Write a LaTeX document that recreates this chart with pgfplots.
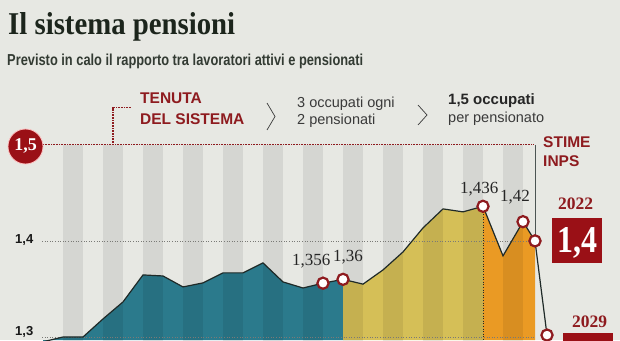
\documentclass[border=0pt]{standalone}
\usepackage{pgfplots}
\pgfplotsset{compat=1.18}
\usepackage{fontspec}
\setmainfont{Liberation Sans}
\newfontfamily\serif{Liberation Serif}
\definecolor{bg}{HTML}{E7E8E3}
\definecolor{tealc}{HTML}{2B7A8C}
\definecolor{yelc}{HTML}{D5BF57}
\definecolor{orac}{HTML}{EA9A24}
\definecolor{dred}{HTML}{8E1B1F}
\definecolor{boxred}{HTML}{9A1016}
\definecolor{linec}{HTML}{1F2A28}
\definecolor{titlec}{HTML}{1C251C}
\definecolor{gridc}{HTML}{7A7A76}
\definecolor{txtc}{HTML}{3A3A3A}
\begin{document}
\begin{tikzpicture}[x=1pt,y=1pt]
\useasboundingbox (0,0) rectangle (620,340);
\fill[bg] (0,0) rectangle (620,340);
\begin{axis}[at={(0pt,0pt)}, anchor=south west, width=620pt, height=340pt,
  scale only axis, xmin=-3.15, xmax=27.85, ymin=1.296875, ymax=1.6510417,
  axis lines=none, ticks=none, clip=true]
% areas
\addplot[fill=tealc, draw=none] coordinates {(-1,1.295) (0,1.300) (1,1.300) (2,1.3188) (3,1.3365) (4,1.3646) (5,1.3635) (6,1.3521) (7,1.3563) (8,1.3667) (9,1.3667) (10,1.3771) (11,1.3573) (12,1.3510) (13,1.356) (14,1.360)} \closedcycle;
\addplot[fill=yelc, draw=none] coordinates {(14,1.360) (15,1.355) (16,1.3698) (17,1.3885) (18,1.4135) (19,1.4333) (20,1.4302) (21,1.436)} \closedcycle;
\addplot[fill=orac, draw=none] coordinates {(21,1.436) (22,1.3844) (23,1.420) (23.6,1.400)} \closedcycle;
% bands
\pgfplotsinvokeforeach{0,2,...,22}{
  \fill[black, fill opacity=0.075] (axis cs:#1,1.5) rectangle ([xshift=20pt]axis cs:#1,1.29);
}
% grid lines
\draw[gridc, line width=0.6pt, dotted] (axis cs:-1.05,1.4) -- (axis cs:23.6,1.4);
\draw[gridc, line width=0.6pt, dotted] (axis cs:-1.05,1.3) -- (axis cs:23.6,1.3);
\draw[dred, line width=1.1pt, dash pattern=on 0.8pt off 0.8pt] (axis cs:-1.0,1.5) -- (axis cs:23.55,1.5);
\draw[dred, line width=1.1pt, dash pattern=on 0.8pt off 0.8pt] (axis cs:2.5,1.5) -- (axis cs:2.5,1.5385) -- (axis cs:3.45,1.5385);
\draw[linec!80, line width=0.7pt] (axis cs:23.6,1.5) -- (axis cs:23.6,1.4);
\draw[linec, line width=0.6pt, dotted] (axis cs:21,1.436) -- (axis cs:21,1.29);
% line
\addplot[linec, line width=1.2pt] coordinates {(-1,1.295) (0,1.300) (1,1.300) (2,1.3188) (3,1.3365) (4,1.3646) (5,1.3635) (6,1.3521) (7,1.3563) (8,1.3667) (9,1.3667) (10,1.3771) (11,1.3573) (12,1.3510) (13,1.356) (14,1.360) (15,1.355) (16,1.3698) (17,1.3885) (18,1.4135) (19,1.4333) (20,1.4302) (21,1.436) (22,1.3844) (23,1.420) (23.6,1.400) (24.2,1.302)};
\addplot[only marks, mark=*, mark size=5.6pt, mark options={fill=white, draw=dred, line width=2.2pt}] coordinates {(13,1.356) (14,1.360) (21,1.436) (23,1.420) (23.6,1.400) (24.2,1.302)};
\end{axis}
% texts
\node[anchor=base west, inner sep=0, text=titlec] at (8,305) {\resizebox{227pt}{22pt}{\serif\bfseries Il sistema pensioni}};
\node[anchor=base west, inner sep=0, text=titlec!90] at (7,274) {\resizebox{356pt}{11.5pt}{\bfseries Previsto in calo il rapporto tra lavoratori attivi e pensionati}};
\node[anchor=base west, inner sep=0, text=dred, font=\fontsize{15.5}{18}\selectfont\bfseries] at (140,236) {TENUTA};
\node[anchor=base west, inner sep=0, text=dred, font=\fontsize{15.5}{18}\selectfont\bfseries] at (140,215) {DEL SISTEMA};
\draw[txtc, line width=0.7pt] (267,237) -- (275,223.5) -- (267,210);
\node[anchor=base west, inner sep=0, text=txtc, font=\fontsize{14.5}{17}\selectfont] at (297,232) {3 occupati ogni};
\node[anchor=base west, inner sep=0, text=txtc, font=\fontsize{14.5}{17}\selectfont] at (297,215) {2 pensionati};
\draw[txtc, line width=0.7pt] (418,235) -- (427,225) -- (418,215);
\node[anchor=base west, inner sep=0, text=black!85, font=\fontsize{15}{17}\selectfont\bfseries] at (448,235) {1,5 occupati};
\node[anchor=base west, inner sep=0, text=txtc, font=\fontsize{14.5}{17}\selectfont] at (448,217) {per pensionato};
\node[anchor=base west, inner sep=0, text=dred, font=\fontsize{15.5}{18}\selectfont\bfseries] at (543,192) {STIME};
\node[anchor=base west, inner sep=0, text=dred, font=\fontsize{15.5}{18}\selectfont\bfseries] at (543,173) {INPS};
% 1,5 circle
\fill[boxred, draw=red!25!white, line width=0.8pt] (25.5,193.5) circle (17.5);
\node[anchor=base, inner sep=0, text=white, font=\fontsize{18}{20}\selectfont\serif\bfseries] at (25.5,189) {1,5};
% tick labels
\node[anchor=base west, inner sep=0, text=black!90, font=\fontsize{13}{14}\selectfont\bfseries] at (15,97) {1,4};
\node[anchor=base west, inner sep=0, text=black!90, font=\fontsize{13}{14}\selectfont\bfseries] at (15,5) {1,3};
% value labels
\node[anchor=base west, inner sep=0, text=black!85, font=\fontsize{17}{19}\selectfont\serif] at (292,75) {1,356};
\node[anchor=base west, inner sep=0, text=black!85, font=\fontsize{17}{19}\selectfont\serif] at (333,79) {1,36};
\node[anchor=base west, inner sep=0, text=black!85, font=\fontsize{17}{19}\selectfont\serif] at (460,146.5) {1,436};
\node[anchor=base west, inner sep=0, text=black!85, font=\fontsize{17}{19}\selectfont\serif] at (500,138.5) {1,42};
% right boxes
\node[anchor=base west, inner sep=0, text=dred, font=\fontsize{17.5}{19}\selectfont\serif\bfseries] at (558,130) {2022};
\fill[boxred] (552,122) rectangle (602,77);
\node[anchor=base, inner sep=0, text=white] at (577,88) {\resizebox{40pt}{25pt}{\serif\bfseries 1,4}};
\node[anchor=base west, inner sep=0, text=dred, font=\fontsize{17.5}{19}\selectfont\serif\bfseries] at (572,13) {2029};
\fill[boxred] (563,7) rectangle (613,-5);
\end{tikzpicture}
\end{document}
